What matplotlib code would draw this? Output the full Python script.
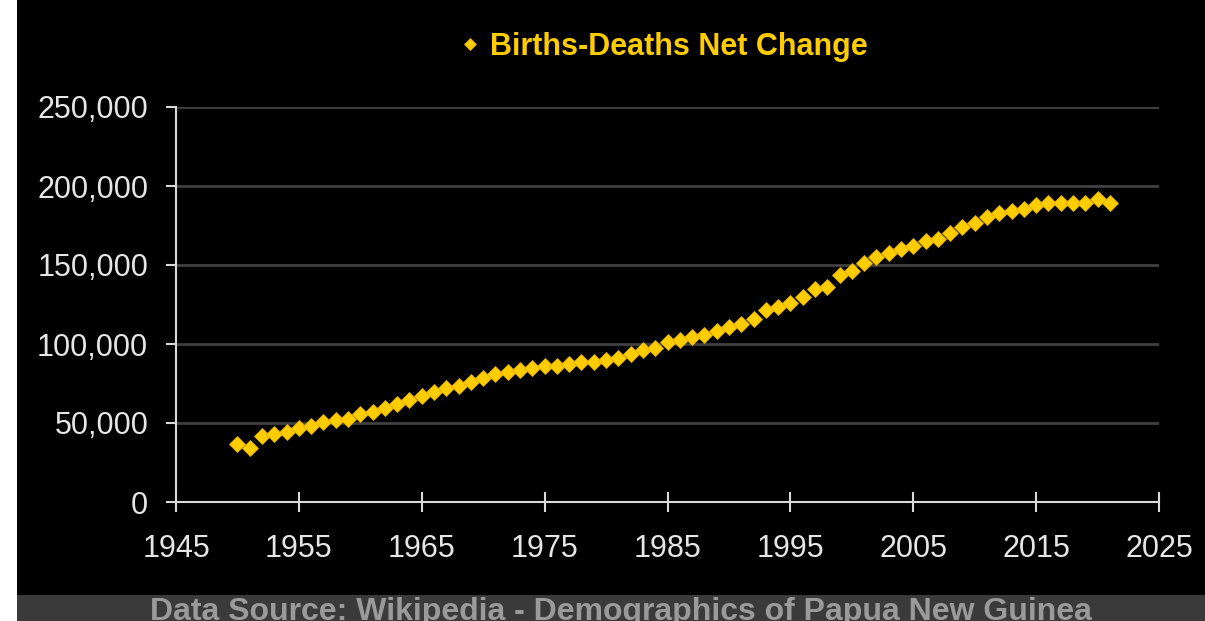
import matplotlib
matplotlib.use("Agg")
import matplotlib.pyplot as plt
from matplotlib.patches import Rectangle
from matplotlib.ticker import FuncFormatter, MultipleLocator

plt.rcParams['font.family'] = ['Liberation Sans', 'DejaVu Sans']

# Papua New Guinea, births minus deaths per year
years = list(range(1950, 2022))
net_change = [
    36700, 34400, 41600, 42800, 44100, 46600, 48100, 50800, 51900, 52700,
    55700, 57000, 59700, 62000, 64600, 67100, 69400, 72000, 73200, 75900,
    78300, 81000, 82300, 83500, 84600, 85900, 85900, 87100, 88400, 88400,
    89700, 90900, 93500, 96200, 97300, 101300, 102500, 104600, 105900, 108400,
    110900, 112400, 116000, 121300, 123600, 126100, 129700, 134600, 136300, 143900,
    146400, 151300, 154900, 157400, 159900, 162200, 165200, 166300, 170000, 173900,
    176600, 180200, 182700, 184000, 185200, 188000, 189000, 189000, 189000, 189000,
    191800, 189000,
]
x_ticks = list(range(1945, 2026, 10))

series_label = 'Births-Deaths Net Change'
source_text = 'Data Source: Wikipedia - Demographics of Papua New Guinea'

gold = '#FFCC00'
axis_col = '#D9D9D9'

fig = plt.figure(figsize=(12.05, 6.21), dpi=100, facecolor='white')

# black panel and grey footer band (left strip stays white)
fig.patches.append(Rectangle((17 / 1205, 0), 1, 1, transform=fig.transFigure,
                             facecolor='black', edgecolor='none', zorder=-2))
fig.patches.append(Rectangle((17 / 1205, 0), 1, 26 / 621, transform=fig.transFigure,
                             facecolor='#3A3A3A', edgecolor='none', zorder=-1))

ax = fig.add_axes([176 / 1205, 1 - 502 / 621, (1159 - 176) / 1205, (502 - 107) / 621])
ax.set_facecolor('black')

ax.plot(years, net_change, linestyle='none', marker='D', markersize=8,
        color=gold, markeredgecolor='#E0B000', markeredgewidth=0.6,
        label=series_label, zorder=3, clip_on=False)

ax.set_xlim(1945, 2025)
ax.set_ylim(0, 250000)
ax.set_xticks(x_ticks)
ax.yaxis.set_major_locator(MultipleLocator(50000))
ax.yaxis.set_major_formatter(FuncFormatter(lambda v, p: f'{int(v):,}'))

ax.grid(axis='y', color='#404040', linewidth=2)
ax.set_axisbelow(True)

for side in ('top', 'right'):
    ax.spines[side].set_visible(False)
for side in ('left', 'bottom'):
    ax.spines[side].set_color(axis_col)
    ax.spines[side].set_linewidth(1.5)

ax.tick_params(axis='y', direction='out', length=7, width=1.5, color=axis_col,
               labelcolor='#E6E6E6', labelsize=22, pad=13)
ax.tick_params(axis='x', direction='inout', length=14, width=1.5, color=axis_col,
               labelcolor='#E6E6E6', labelsize=22, pad=16)

fig.legend(loc='center', bbox_to_anchor=(0.551, 1 - 47 / 621), frameon=False,
           handlelength=0.6, handletextpad=0.35, markerscale=0.75,
           prop={'size': 22, 'weight': 'bold'}, labelcolor=gold)

fig.text(0.515, 1 - 597 / 621, source_text, ha='center', va='top',
         fontsize=23, fontweight='bold', color='#9A9A9A')

fig.savefig('out.png', dpi=100, facecolor=fig.get_facecolor())
